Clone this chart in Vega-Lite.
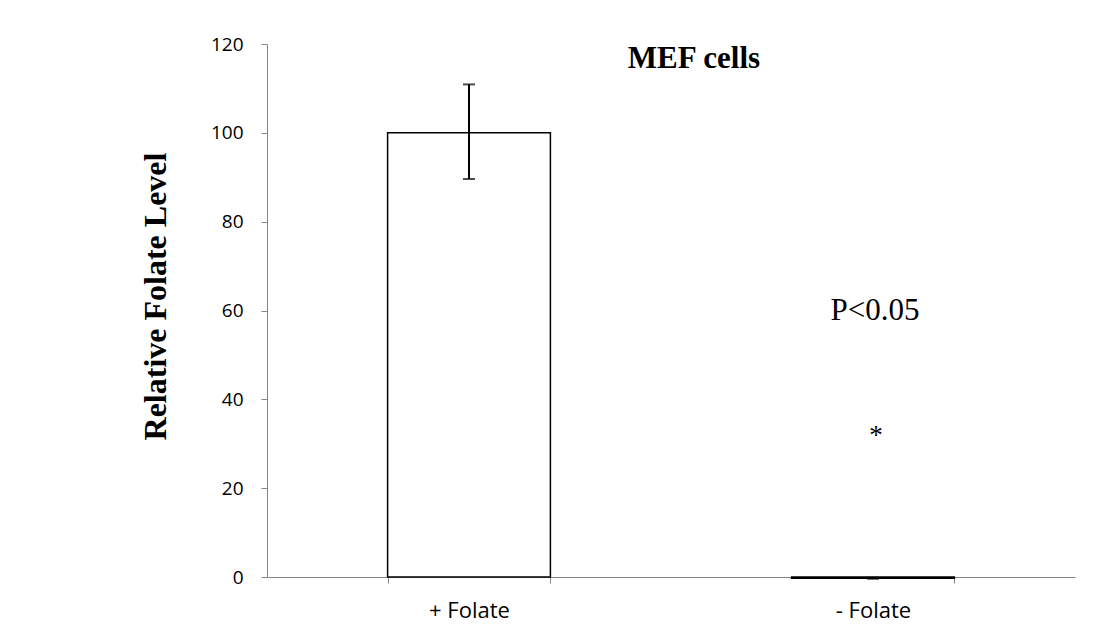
{
  "$schema": "https://vega.github.io/schema/vega-lite/v6.json",
  "width": 808,
  "height": 533,
  "autosize": {"type": "none"},
  "padding": {"left": 267, "top": 44, "right": 45, "bottom": 47},
  "background": "white",
  "config": {"view": {"stroke": null}},
  "datasets": {
    "bars": [
      {"group": "+ Folate", "value": 100, "low": 89.6, "high": 110.9},
      {"group": "- Folate", "value": -0.3, "low": -0.4, "high": -0.2}
    ],
    "notes": [
      {"group": "- Folate", "y": 114.6, "label": "MEF cells", "kind": "title"},
      {"group": "- Folate", "y": 57.9, "label": "P<0.05", "kind": "p"},
      {"group": "- Folate", "y": 30, "label": "*", "kind": "star"}
    ]
  },
  "encoding": {
    "x": {
      "field": "group",
      "type": "nominal",
      "sort": ["+ Folate", "- Folate"],
      "scale": {"paddingInner": 0.597, "paddingOuter": 0.2985},
      "axis": {
        "title": null,
        "labelAngle": 0,
        "labelFont": "Open Sans",
        "labelFontSize": 22,
        "labelColor": "#000000",
        "labelPadding": 17,
        "domainColor": "#868686",
        "tickColor": "#868686",
        "tickSize": 6,
        "tickBand": "extent"
      }
    }
  },
  "layer": [
    {
      "data": {"name": "bars"},
      "mark": {"type": "bar", "fill": "white", "stroke": "black", "strokeWidth": 1.5},
      "encoding": {
        "y": {
          "field": "value",
          "type": "quantitative",
          "scale": {"domain": [0, 120], "nice": false, "zero": false},
          "axis": {
            "title": "Relative Folate Level",
            "titleFont": "Liberation Serif",
            "titleFontWeight": "bold",
            "titleFontSize": 32,
            "titleColor": "#000000",
            "titleAngle": -90,
            "titleAlign": "center",
            "titleBaseline": "alphabetic",
            "titleX": -102,
            "titleY": 252,
            "values": [0, 20, 40, 60, 80, 100, 120],
            "grid": false,
            "labelFont": "Open Sans",
            "labelFontSize": 19,
            "labelColor": "#000000",
            "labelPadding": 18,
            "domainColor": "#868686",
            "tickColor": "#868686",
            "tickSize": 6
          }
        }
      }
    },
    {
      "data": {"name": "bars"},
      "mark": {"type": "rule", "color": "black", "strokeWidth": 2},
      "encoding": {
        "y": {"field": "low", "type": "quantitative"},
        "y2": {"field": "high"}
      }
    },
    {
      "data": {"name": "bars"},
      "mark": {"type": "tick", "color": "black", "thickness": 2, "size": 12, "orient": "horizontal"},
      "encoding": {"y": {"field": "low", "type": "quantitative"}}
    },
    {
      "data": {"name": "bars"},
      "mark": {"type": "tick", "color": "black", "thickness": 2, "size": 12, "orient": "horizontal"},
      "encoding": {"y": {"field": "high", "type": "quantitative"}}
    },
    {
      "data": {"name": "notes"},
      "transform": [{"filter": "datum.kind == 'title'"}],
      "mark": {"type": "text", "font": "Liberation Serif", "fontWeight": "bold", "fontSize": 31, "dx": -179, "baseline": "alphabetic", "color": "black"},
      "encoding": {"y": {"field": "y", "type": "quantitative"}, "text": {"field": "label"}}
    },
    {
      "data": {"name": "notes"},
      "transform": [{"filter": "datum.kind == 'p'"}],
      "mark": {"type": "text", "font": "Liberation Serif", "fontSize": 31, "dx": 2, "baseline": "alphabetic", "color": "black"},
      "encoding": {"y": {"field": "y", "type": "quantitative"}, "text": {"field": "label"}}
    },
    {
      "data": {"name": "notes"},
      "transform": [{"filter": "datum.kind == 'star'"}],
      "mark": {"type": "text", "font": "Liberation Serif", "fontSize": 27, "dx": 3, "baseline": "alphabetic", "color": "black"},
      "encoding": {"y": {"field": "y", "type": "quantitative"}, "text": {"field": "label"}}
    }
  ]
}
